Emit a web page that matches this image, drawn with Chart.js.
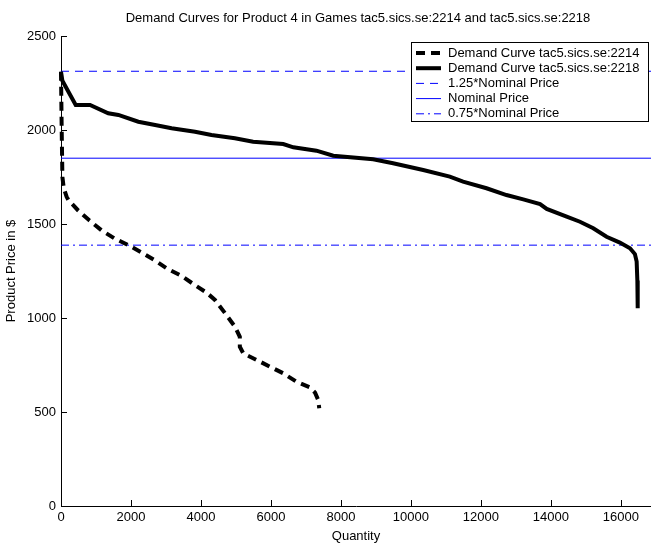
<!DOCTYPE html>
<html>
<head>
<meta charset="utf-8">
<script src="https://cdn.jsdelivr.net/npm/chart.js@4.4.0/dist/chart.umd.min.js"></script>
<style>
  body { margin: 0; background: #fff; }
  canvas { display: block; }
</style>
</head>
<body>
<canvas id="myChart" width="651" height="545"></canvas>
<script>
    // Data
    const qty2214 = [0, 20, 40, 80, 160, 210, 490, 800, 1160, 1520, 1900, 2280, 2660, 3020, 3450, 3780, 4160, 4400, 4690, 4970, 5110, 5110, 5210, 5590, 5970, 6350, 6730, 7110, 7260, 7350, 7380];
    const price2214 = [2310, 2000, 1750, 1690, 1645, 1628, 1572, 1521, 1466, 1424, 1390, 1351, 1309, 1264, 1223, 1181, 1135, 1096, 1025, 954, 900, 847, 812, 777, 741, 706, 661, 631, 603, 564, 520];

    const qty2218 = [0, 40, 420, 830, 1350, 1640, 2210, 2690, 3160, 3830, 4300, 4970, 5490, 6350, 6640, 7300, 7780, 8920, 9490, 10350, 11110, 11490, 12160, 12730, 13210, 13690, 13880, 14450, 14830, 15210, 15590, 15970, 16260, 16400, 16450, 16470, 16480];
    const price2218 = [2310, 2262, 2133, 2133, 2089, 2080, 2044, 2027, 2009, 1991, 1973, 1956, 1938, 1925, 1908, 1890, 1863, 1844, 1823, 1787, 1752, 1725, 1690, 1654, 1631, 1606, 1580, 1539, 1512, 1477, 1432, 1401, 1371, 1340, 1300, 1200, 1052];

    const nominalPrice = 1850;
    const priceFactors = [1.25, 1, 0.75];
    const priceLabels = ['1.25*Nominal Price', 'Nominal Price', '0.75*Nominal Price'];
    const xTicks = [0, 2000, 4000, 6000, 8000, 10000, 12000, 14000, 16000];
    const yTicks = [0, 500, 1000, 1500, 2000, 2500];
    const xMax = 16860;

    const FONT = 'Liberation Sans, Arial, Helvetica, sans-serif';
    const FSIZE = 13;

    const toPoints = (xs, ys) => xs.map((x, i) => ({x: x, y: ys[i]}));
    const flatLine = (f) => [{x: 0, y: nominalPrice * f}, {x: xMax, y: nominalPrice * f}];

    const blueDashes = [[8, 6], [], [8, 4, 2, 4]];

    const datasets = [
        {
            label: 'Demand Curve tac5.sics.se:2214',
            data: toPoints(qty2214, price2214),
            borderColor: '#000',
            borderWidth: 4,
            borderDash: [9, 6]
        },
        {
            label: 'Demand Curve tac5.sics.se:2218',
            data: toPoints(qty2218, price2218),
            borderColor: '#000',
            borderWidth: 4,
            borderDash: []
        }
    ];
    priceFactors.forEach((f, i) => {
        datasets.push({
            label: priceLabels[i],
            data: flatLine(f),
            borderColor: '#0000ff',
            borderWidth: 1,
            borderDash: blueDashes[i]
        });
    });
    datasets.forEach(d => {
        d.pointRadius = 0;
        d.tension = 0;
        d.fill = false;
        d.clip = false;
    });

    // inward tick marks, title and boxed legend
    const extras = {
        id: 'extras',
        afterDatasetsDraw(chart) {
            const c = chart.ctx;
            const area = chart.chartArea;
            const xs = chart.scales.x, ys = chart.scales.y;
            c.save();
            c.strokeStyle = '#000';
            c.lineWidth = 1;
            c.beginPath();
            xTicks.forEach(v => {
                const px = Math.round(xs.getPixelForValue(v)) + 0.5;
                c.moveTo(px, area.bottom);
                c.lineTo(px, area.bottom - 6);
            });
            yTicks.forEach(v => {
                const py = Math.round(ys.getPixelForValue(v)) + 0.5;
                c.moveTo(area.left, py);
                c.lineTo(area.left + 6, py);
            });
            c.stroke();

            // title
            c.fillStyle = '#000';
            c.font = FSIZE + 'px ' + FONT;
            c.textAlign = 'center';
            c.textBaseline = 'middle';
            c.fillText('Demand Curves for Product 4 in Games tac5.sics.se:2214 and tac5.sics.se:2218', (area.left + area.right) / 2 + 2, 18);

            // legend
            const bx = 411.5, by = 42.5, bw = 237, bh = 79;
            c.fillStyle = '#fff';
            c.fillRect(bx, by, bw, bh);
            c.strokeStyle = '#000';
            c.lineWidth = 1;
            c.setLineDash([]);
            c.strokeRect(bx, by, bw, bh);
            chart.data.datasets.forEach((d, i) => {
                const y = 53 + i * 15.2;
                c.beginPath();
                c.strokeStyle = d.borderColor;
                c.lineWidth = d.borderWidth;
                c.setLineDash(d.borderDash);
                c.moveTo(416, y);
                c.lineTo(441, y);
                c.stroke();
                c.setLineDash([]);
                c.fillStyle = '#000';
                c.textAlign = 'left';
                c.fillText(d.label, 448, y);
            });
            c.restore();
        }
    };

    const ctx = document.getElementById('myChart');
    const myChart = new Chart(ctx, {
        type: 'line',
        data: { datasets: datasets },
        options: {
            responsive: false,
            animation: false,
            layout: { padding: { top: 36, right: 0, left: 0, bottom: 0 } },
            plugins: {
                legend: { display: false },
                tooltip: { enabled: false },
                title: { display: false }
            },
            scales: {
                x: {
                    type: 'linear',
                    min: 0,
                    max: xMax,
                    afterFit: (s) => { s.height = 39; },
                    afterBuildTicks: (s) => { s.ticks = xTicks.map(v => ({value: v})); },
                    grid: { display: false, drawTicks: false, tickLength: 0 },
                    border: { display: true, color: '#000', width: 1 },
                    ticks: {
                        color: '#000',
                        padding: 4,
                        maxRotation: 0,
                        autoSkip: false,
                        font: { family: FONT, size: FSIZE },
                        callback: (v) => String(v)
                    },
                    title: {
                        display: true,
                        text: 'Quantity',
                        color: '#000',
                        padding: { top: 0, bottom: 1 },
                        font: { family: FONT, size: FSIZE }
                    }
                },
                y: {
                    min: 0,
                    max: 2500,
                    afterFit: (s) => { s.width = 61; },
                    afterBuildTicks: (s) => { s.ticks = yTicks.map(v => ({value: v})); },
                    grid: { display: false, drawTicks: false, tickLength: 0 },
                    border: { display: true, color: '#000', width: 1 },
                    ticks: {
                        color: '#000',
                        padding: 5,
                        autoSkip: false,
                        font: { family: FONT, size: FSIZE },
                        callback: (v) => String(v)
                    },
                    title: {
                        display: true,
                        text: 'Product Price in $',
                        color: '#000',
                        padding: { top: 4, bottom: 0 },
                        font: { family: FONT, size: FSIZE }
                    }
                }
            }
        },
        plugins: [extras]
    });
</script>
</body>
</html>
